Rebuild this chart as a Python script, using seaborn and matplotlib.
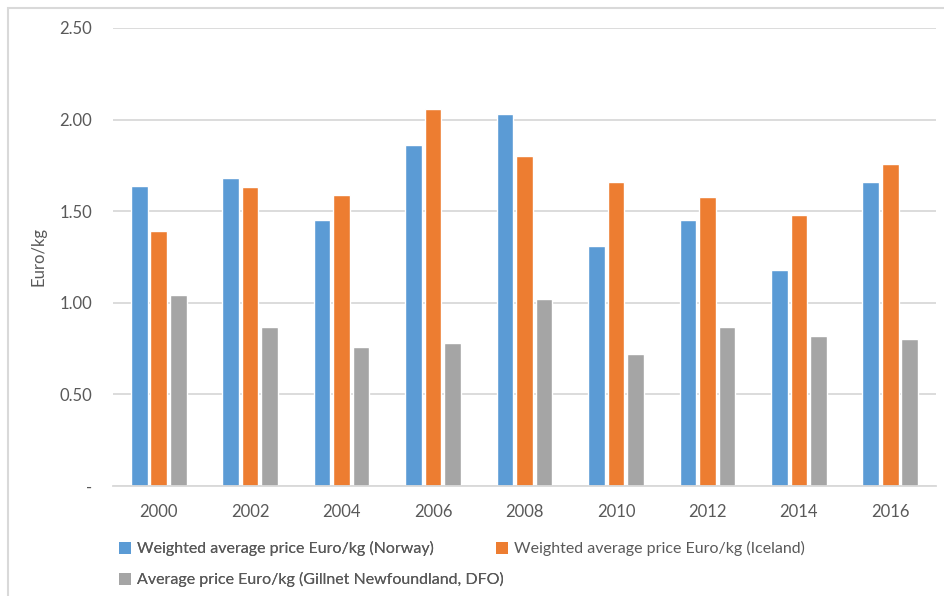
import matplotlib
matplotlib.use("Agg")
import matplotlib.pyplot as plt
import seaborn as sns
import pandas as pd
from matplotlib.patches import Patch, Rectangle
from matplotlib.ticker import FixedLocator, FuncFormatter

years = ["2000", "2002", "2004", "2006", "2008", "2010", "2012", "2014", "2016"]
norway = [1.64, 1.68, 1.45, 1.86, 2.03, 1.31, 1.45, 1.18, 1.66]
iceland = [1.39, 1.63, 1.59, 2.06, 1.80, 1.66, 1.58, 1.48, 1.76]
gillnet = [1.04, 0.87, 0.76, 0.78, 1.02, 0.72, 0.87, 0.82, 0.80]
series_names = [
    "Weighted average price Euro/kg (Norway)",
    "Weighted average price Euro/kg (Iceland)",
    "Average price Euro/kg (Gillnet Newfoundland, DFO)",
]
colors = ["#5B9BD5", "#ED7D31", "#A5A5A5"]
y_ticks = [0.0, 0.5, 1.0, 1.5, 2.0, 2.5]

rows = []
for name, vals in zip(series_names, [norway, iceland, gillnet]):
    for yr, v in zip(years, vals):
        rows.append({"year": yr, "price": v, "series": name})
df = pd.DataFrame(rows)

sns.set_theme(style="white")
plt.rcParams["font.family"] = ["Lato", "DejaVu Sans"]
text_color = "#595959"
grid_color = "#D9D9D9"

fig = plt.figure(figsize=(9.44, 5.96), dpi=100)
ax = fig.add_axes([113 / 944, 110 / 596, 823 / 944, 458 / 596])

sns.barplot(data=df, x="year", y="price", hue="series", order=years,
            hue_order=series_names, palette=colors, width=0.64, gap=0.15,
            saturation=1, ax=ax, legend=False)

ax.set_ylim(0, 2.5)
ax.set_xlim(-0.5, len(years) - 0.5)
ax.yaxis.set_major_locator(FixedLocator(y_ticks))
ax.yaxis.set_major_formatter(FuncFormatter(lambda v, _: "-" if v == 0 else f"{v:.2f}"))
ax.grid(axis="y", color=grid_color, linewidth=1.3)
ax.set_axisbelow(True)
for side in ["top", "right", "left"]:
    ax.spines[side].set_visible(False)
ax.spines["bottom"].set_color(grid_color)
ax.spines["bottom"].set_linewidth(1.3)
ax.tick_params(axis="both", length=0, labelsize=12, colors=text_color)
ax.tick_params(axis="y", pad=15)
ax.tick_params(axis="x", pad=13)
ax.set_xlabel("")
ax.set_ylabel("Euro/kg", fontsize=12, color=text_color, labelpad=9)

handles = [Patch(facecolor=c, edgecolor="none") for c in colors]
legend_style = dict(loc="upper left", frameon=False, fontsize=11.5,
                    labelcolor=text_color, handlelength=0.75,
                    handleheight=0.75, handletextpad=0.35,
                    labelspacing=1.0, borderpad=0.2)
leg_left = fig.legend([handles[0], handles[2]], [series_names[0], series_names[2]],
                      bbox_to_anchor=(108 / 944, 1 - 530 / 596), **legend_style)
fig.add_artist(leg_left)
fig.legend([handles[1]], [series_names[1]],
           bbox_to_anchor=(485 / 944, 1 - 530 / 596), **legend_style)

fig.add_artist(Rectangle((8 / 944, -0.1), 1.2, 1.1 - 8 / 596,
                         transform=fig.transFigure, fill=False,
                         edgecolor=grid_color, linewidth=1.5))

fig.savefig("out.png", dpi=100)
